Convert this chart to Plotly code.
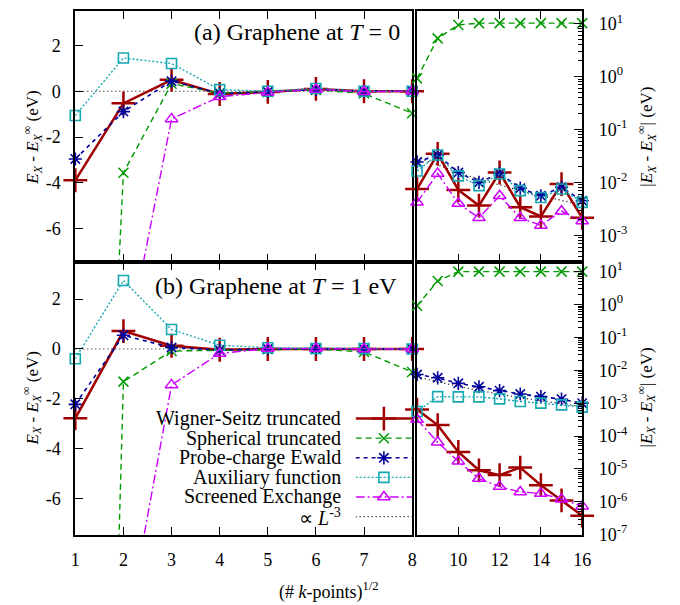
import plotly.graph_objects as go

# ---------------- data ----------------
x_lin = [1, 2, 3, 4, 5, 6, 7, 8]
x_log = [8, 9, 10, 11, 12, 13, 14, 15, 16]

# (a) T = 0, linear panel
ws_a = [-3.89, -0.53, 0.50, -0.12, -0.03, 0.10, 0.00, 0.00]
sph_a = [-46.0, -3.56, 0.33, -0.08, -0.03, 0.06, -0.10, -0.96]
pce_a = [-2.96, -0.89, 0.44, -0.10, -0.03, 0.08, 0.00, 0.00]
aux_a = [-1.06, 1.45, 1.21, 0.07, 0.00, 0.12, 0.00, 0.00]
scr_a = [-40.0, -11.9, -1.21, -0.24, -0.05, 0.08, -0.02, 0.00]
zero_a = [0, 0, 0, 0, 0, 0, 0, 0]

# (a) T = 0, |E| log panel
ws_a_abs = [7.5e-3, 3.47e-2, 7.2e-3, 3.65e-3, 1.54e-2, 3.4e-3, 2.27e-3, 9.3e-3, 2.15e-3]
sph_a_abs = [0.93, 5.3, 9.5, 10.3, 10.3, 10.3, 10.3, 10.3, 10.3]
pce_a_abs = [2.44e-2, 3.3e-2, 1.54e-2, 1.0e-2, 1.48e-2, 7.8e-3, 5.6e-3, 8.1e-3, 4.5e-3]
aux_a_abs = [1.65e-2, 3.3e-2, 1.33e-2, 8.7e-3, 1.44e-2, 7.0e-3, 5.2e-3, 7.5e-3, 4.2e-3]
scr_a_abs = [4.2e-3, 1.47e-2, 4.0e-3, 2.14e-3, 5.6e-3, 2.14e-3, 1.54e-3, 2.86e-3, 1.86e-3]
l3_a = [3.0e-2, 2.11e-2, 1.536e-2, 1.154e-2, 8.89e-3, 6.99e-3, 5.6e-3, 4.55e-3, 3.75e-3]

# (b) T = 1 eV, linear panel
ws_b = [-2.78, 0.72, 0.13, -0.03, 0.00, 0.00, 0.00, 0.00]
sph_b = [-69.0, -1.31, -0.08, -0.05, 0.00, 0.00, -0.12, -0.92]
pce_b = [-2.22, 0.55, 0.06, -0.04, 0.00, 0.00, 0.00, 0.00]
aux_b = [-0.39, 2.75, 0.78, 0.15, 0.05, 0.02, 0.02, 0.00]
scr_b = [-40.0, -12.0, -1.44, -0.18, 0.02, 0.02, 0.00, 0.00]
zero_b = [0, 0, 0, 0, 0, 0, 0, 0]

# (b) T = 1 eV, |E| log panel
ws_b_abs = [6.4e-4, 2.15e-4, 3.3e-5, 9.1e-6, 6.5e-6, 1.1e-5, 3.2e-6, 1.1e-6, 3.8e-7]
sph_b_abs = [0.91, 5.2, 10.0, 10.0, 10.0, 10.0, 10.0, 10.0, 10.0]
pce_b_abs = [7.4e-3, 5.9e-3, 4.0e-3, 3.15e-3, 2.4e-3, 1.9e-3, 1.58e-3, 1.32e-3, 1.0e-3]
aux_b_abs = [5.6e-4, 1.58e-3, 1.55e-3, 1.55e-3, 1.35e-3, 1.12e-3, 1.0e-3, 8.9e-4, 7.6e-4]
scr_b_abs = [3.2e-4, 6.5e-5, 1.7e-5, 5.1e-6, 2.9e-6, 2.0e-6, 1.8e-6, 1.2e-6, 7.4e-7]
l3_b = [6.3e-3, 4.42e-3, 3.23e-3, 2.42e-3, 1.87e-3, 1.47e-3, 1.18e-3, 9.6e-4, 7.9e-4]

names = ["Wigner-Seitz truncated", "Spherical truncated", "Probe-charge Ewald",
         "Auxiliary function", "Screened Exchange", "\u221d <i>L</i><sup>-3</sup>"]

lin_ticks = [-6, -4, -2, 0, 2]
lin_ticktext = ["-6", "-4", "-2", "0", "2"]

# ---------------- styles ----------------
FONT = "'Liberation Serif', 'Times New Roman', Times, serif"
styles = [
    dict(color="#a00000", width=2.5, dash="solid", symbol="cross-thin-open", size=17, mlw=2.5),
    dict(color="#009a00", width=1.4, dash="6px,4px", symbol="x-thin-open", size=10, mlw=1.5),
    dict(color="#00009a", width=1.6, dash="4px,4px", symbol="asterisk-open", size=11, mlw=1.6),
    dict(color="#16a8b0", width=1.4, dash="2px,2px", symbol="square-open", size=10, mlw=1.6),
    dict(color="#cc00ff", width=1.4, dash="9px,3px,2px,3px", symbol="triangle-up-open", size=11, mlw=1.5),
    dict(color="black", width=1.2, dash="1px,3px", symbol=None, size=0, mlw=0),
]

YLIN = [-7.45, 3.5]
YLOG_A = [-3.5, 1.24]
YLOG_B = [-7.0, 1.3]

fig = go.Figure()


def add(x, y, st, xa, ya, lo=None, hi=None):
    if st["symbol"] is None:
        fig.add_trace(go.Scatter(x=x, y=y, mode="lines", xaxis=xa, yaxis=ya, showlegend=False,
                                 line=dict(color=st["color"], width=st["width"], dash=st["dash"])))
        return
    opac = [1 if (lo is None or (lo <= v <= hi)) else 0 for v in y]
    fig.add_trace(go.Scatter(
        x=x, y=y, mode="lines+markers", xaxis=xa, yaxis=ya, showlegend=False, cliponaxis=False,
        line=dict(color=st["color"], width=st["width"], dash=st["dash"]),
        marker=dict(symbol=st["symbol"], size=st["size"], color=st["color"], opacity=opac,
                    line=dict(color=st["color"], width=st["mlw"]))))


# zero reference lines in linear panels
add(x_lin, zero_a, styles[5], "x", "y")
add(x_lin, zero_b, styles[5], "x3", "y3")

lin_a = [ws_a, sph_a, pce_a, aux_a, scr_a]
log_a = [ws_a_abs, sph_a_abs, pce_a_abs, aux_a_abs, scr_a_abs]
lin_b = [ws_b, sph_b, pce_b, aux_b, scr_b]
log_b = [ws_b_abs, sph_b_abs, pce_b_abs, aux_b_abs, scr_b_abs]

add(x_log, l3_a, styles[5], "x2", "y2")
add(x_log, l3_b, styles[5], "x4", "y4")
for i in range(5):
    add(x_lin, lin_a[i], styles[i], "x", "y", YLIN[0], YLIN[1])
    add(x_log, log_a[i], styles[i], "x2", "y2")
    add(x_lin, lin_b[i], styles[i], "x3", "y3", YLIN[0], YLIN[1])
    add(x_log, log_b[i], styles[i], "x4", "y4")

# legend samples on a hidden helper axis
for i, st in enumerate(styles):
    if st["symbol"] is None:
        fig.add_trace(go.Scatter(x=[0, 1], y=[i, i], mode="lines", xaxis="x5", yaxis="y5",
                                 showlegend=False,
                                 line=dict(color=st["color"], width=st["width"], dash=st["dash"])))
    else:
        fig.add_trace(go.Scatter(
            x=[0, 0.5, 1], y=[i, i, i], mode="lines+markers", xaxis="x5", yaxis="y5",
            showlegend=False, cliponaxis=False,
            line=dict(color=st["color"], width=st["width"], dash=st["dash"]),
            marker=dict(symbol=st["symbol"], size=st["size"], color=st["color"], opacity=[0, 1, 0],
                        line=dict(color=st["color"], width=st["mlw"]))))

W, H = 680, 605
XL = [71.8 / W, 415.7 / W]
XR = [420.7 / W, 589.3 / W]
YT = [1 - 265 / H, 1 - 9.3 / H]
YB = [1 - 543.5 / H, 1 - 265 / H]

tickfont = dict(family=FONT, size=18, color="black")
base = dict(showline=True, linecolor="black", linewidth=2, ticks="inside", ticklen=8,
            tickwidth=1.3, tickcolor="black", showgrid=False, zeroline=False, tickfont=tickfont)

log_a_vals = [10.0 ** k for k in range(-3, 2)]
log_a_text = ["10<sup>%d</sup>" % k for k in range(-3, 2)]
log_b_vals = [10.0 ** k for k in range(-7, 2)]
log_b_text = ["10<sup>%d</sup>" % k for k in range(-7, 2)]
minor_a = [m * 10.0 ** k for k in range(-4, 2) for m in range(2, 10)]
minor_b = [m * 10.0 ** k for k in range(-7, 2) for m in range(2, 10)]

fig.update_layout(
    width=W, height=H, margin=dict(l=0, r=0, t=0, b=0),
    paper_bgcolor="white", plot_bgcolor="rgba(0,0,0,0)", showlegend=False,
    font=dict(family=FONT, color="black"),
    xaxis=dict(base, domain=XL, range=[1, 8], anchor="y", mirror="allticks",
               tickvals=x_lin, showticklabels=False),
    yaxis=dict(base, domain=YT, range=YLIN, anchor="x", mirror=True,
               tickvals=lin_ticks, ticktext=lin_ticktext, ticklabelstandoff=9),
    xaxis2=dict(base, domain=XR, range=[8, 16], anchor="y2", mirror="allticks",
                tickvals=[10, 12, 14, 16], showticklabels=False),
    yaxis2=dict(base, domain=YT, type="log", range=YLOG_A, anchor="x2", side="right", mirror=True,
                tickvals=log_a_vals, ticktext=log_a_text, ticklabelstandoff=11,
                minor=dict(ticks="inside", ticklen=4, tickcolor="black", tickvals=minor_a)),
    xaxis3=dict(base, domain=XL, range=[1, 8], anchor="y3", mirror="allticks",
                tickvals=x_lin, ticktext=[str(v) for v in x_lin], ticklabelstandoff=8),
    yaxis3=dict(base, domain=YB, range=YLIN, anchor="x3", mirror=True,
                tickvals=lin_ticks, ticktext=lin_ticktext, ticklabelstandoff=9),
    xaxis4=dict(base, domain=XR, range=[8, 16], anchor="y4", mirror="allticks",
                tickvals=[10, 12, 14, 16], ticktext=["10", "12", "14", "16"], ticklabelstandoff=8),
    yaxis4=dict(base, domain=YB, type="log", range=YLOG_B, anchor="x4", side="right", mirror=True,
                tickvals=log_b_vals, ticktext=log_b_text, ticklabelstandoff=11,
                minor=dict(ticks="inside", ticklen=4, tickcolor="black", tickvals=minor_b)),
    xaxis5=dict(domain=[358 / W, 415.7 / W], range=[0, 1], anchor="y5", visible=False),
    yaxis5=dict(domain=[1 - 535 / H, 1 - 415 / H], range=[5.5, -0.5], anchor="x5", visible=False),
)

ann = []
ylab = "<i>E</i><sub><i>X</i></sub> - <i>E</i><sub><i>X</i></sub><sup>\u221e</sup> (eV)"
ylab_r = "|<i>E</i><sub><i>X</i></sub> - <i>E</i><sub><i>X</i></sub><sup>\u221e</sup>| (eV)"
for yc in (138, 404):
    ann.append(dict(text=ylab, x=28 / W, y=1 - yc / H, xref="paper", yref="paper", textangle=-90,
                    showarrow=False, font=dict(family=FONT, size=17), xanchor="center", yanchor="middle"))
    ann.append(dict(text=ylab_r, x=655 / W, y=1 - yc / H, xref="paper", yref="paper", textangle=-90,
                    showarrow=False, font=dict(family=FONT, size=17), xanchor="center", yanchor="middle"))
ann.append(dict(text="(a) Graphene at <i>T</i> = 0", x=405 / W, y=1 - 31 / H, xref="paper", yref="paper",
                showarrow=False, font=dict(family=FONT, size=24), xanchor="right", yanchor="middle"))
ann.append(dict(text="(b) Graphene at <i>T</i> = 1 eV", x=402 / W, y=1 - 290 / H, xref="paper", yref="paper",
                showarrow=False, font=dict(family=FONT, size=24), xanchor="right", yanchor="middle"))
ann.append(dict(text="(# <i>k</i>-points)<sup>1/2</sup>", x=331 / W, y=1 - 601 / H, xref="paper", yref="paper",
                showarrow=False, font=dict(family=FONT, size=18), xanchor="center", yanchor="middle"))
for i, nm in enumerate(names):
    ann.append(dict(text=nm, x=345 / W, y=1 - (425 + 20 * i) / H, xref="paper", yref="paper",
                    showarrow=False, font=dict(family=FONT, size=20), xanchor="right", yanchor="middle"))
fig.update_layout(annotations=ann)

fig.write_html("out.html")
